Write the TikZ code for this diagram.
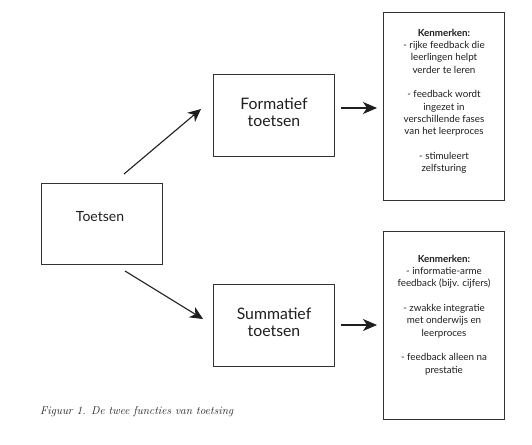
\documentclass[tikz,border=0pt]{standalone}
\usepackage{fontspec}
\setsansfont{Lato}
\usetikzlibrary{arrows.meta}
\definecolor{ink}{HTML}{1E1E1E}
\definecolor{edge}{HTML}{333333}
\begin{document}
\begin{tikzpicture}[x=1pt,y=-1pt,
  box/.style={draw=edge, line width=0.9pt, rectangle, inner sep=0pt},
  bigtxt/.style={font=\sffamily\fontsize{15.8}{17}\selectfont, text=ink, align=center},
  midtxt/.style={font=\sffamily\fontsize{14}{17}\selectfont, text=ink, align=center},
  smalltxt/.style={font=\sffamily\fontsize{9.8}{12.3}\selectfont, text=ink, align=center},
  arr/.style={draw=ink, line width=1.1pt, -{Stealth[length=13pt, width=12pt, inset=4pt]}}
]
\useasboundingbox (0,0) rectangle (532,444);
% boxes
\node[box, minimum width=121pt, minimum height=81pt] (toetsen) at (101.5,223.5) {};
\node[box, minimum width=121pt, minimum height=82pt] (form) at (274,115) {};
\node[box, minimum width=121pt, minimum height=82pt] (summ) at (274,325) {};
\node[box, minimum width=121pt, minimum height=188pt] (k1) at (444,106) {};
\node[box, minimum width=121pt, minimum height=188pt] (k2) at (444,325.5) {};
% texts
\node[midtxt] (t0) at (100,217) {Toetsen};
\node[bigtxt] (t1) at (274,112) {Formatief\\toetsen};
\node[bigtxt] (t2) at (274,322) {Summatief\\toetsen};
\node[smalltxt, anchor=north] (t3) at (444,25.5) {\textbf{Kenmerken:}\\- rijke feedback die\\leerlingen helpt\\verder te leren\\[12.3pt]- feedback wordt\\ingezet in\\verschillende fases\\van het leerproces\\[12.3pt]- stimuleert\\zelfsturing};
\node[smalltxt, anchor=north] (t4) at (444,251.5) {\textbf{Kenmerken:}\\- informatie-arme\\feedback (bijv. cijfers)\\[12.3pt]- zwakke integratie\\met onderwijs en\\leerproces\\[12.3pt]- feedback alleen na\\prestatie};
% arrows
\coordinate (a1s) at (124,174);
\coordinate (a1e) at (201,109);
\coordinate (a2s) at (125,271);
\coordinate (a2e) at (203,319);
\coordinate (a3s) at (341,108);
\coordinate (a3e) at (377,108);
\coordinate (a4s) at (341,325);
\coordinate (a4e) at (377,325);
\draw[arr] (a1s) -- (a1e);
\draw[arr] (a2s) -- (a2e);
\draw[arr, -{Stealth[length=14pt, width=12pt, inset=4pt]}] (a3s) -- (a3e);
\draw[arr, -{Stealth[length=14pt, width=12pt, inset=4pt]}] (a4s) -- (a4e);
% caption
\node[anchor=west, font=\itshape\fontsize{11.4}{13}\selectfont, text=ink, inner sep=0pt] (cap) at (40,412) {Figuur 1. De twee functies van toetsing};
\end{tikzpicture}
\end{document}
